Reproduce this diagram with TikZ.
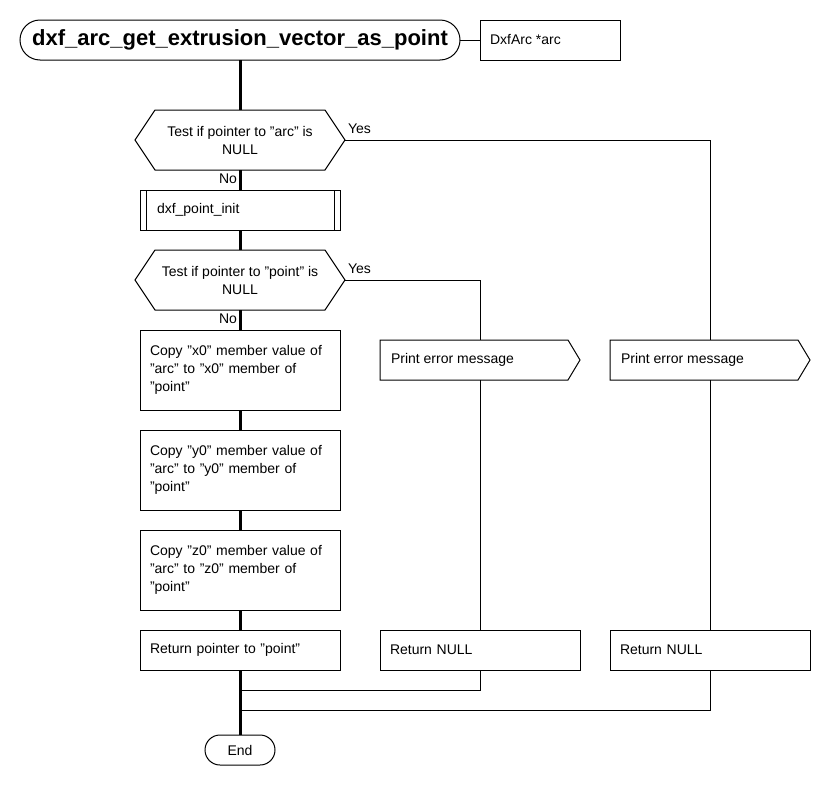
\documentclass[tikz,border=0pt]{standalone}
\usepackage{fontspec}
\setmainfont{Liberation Sans}
\begin{document}
\begin{tikzpicture}[x=1pt,y=-1pt,
  every node/.style={inner sep=0pt,outer sep=0pt,font=\fontsize{14}{18}\selectfont},
  box/.style={draw,line width=1pt,minimum width=200pt,minimum height=40pt},
  tallbox/.style={box,minimum height=80pt,text width=180pt,align=left},
  shell/.style={draw=none,minimum width=#1,minimum height=40pt},
  outline/.style={line width=1pt,line join=miter},
  term/.style={draw,line width=1pt,rounded corners=#1},
  flow/.style={line width=3pt},
  link/.style={line width=1pt},
  lbl/.style={font=\fontsize{14}{18}\selectfont}]
\useasboundingbox (0,0) rectangle (830,790);

% start terminator and parameter box
\node[term=20pt,minimum width=440pt,minimum height=40pt,font=\fontsize{22}{26}\bfseries\selectfont] (start) at (240,40) {dxf\_arc\_get\_extrusion\_vector\_as\_point};
\node[box,minimum width=140pt] (param) at (550,40) {};
\node[anchor=west] at (490,40) {DxfArc *arc};
\draw[link] (start.east) -- (param.west);

% first decision
\node[shell=210pt,minimum height=60pt,align=center] (d1) at (240,140) {Test if pointer to "arc" is\\NULL};
\draw[outline] ([xshift=20pt]d1.north west) -- ([xshift=-20pt]d1.north east) -- (d1.east)
  -- ([xshift=-20pt]d1.south east) -- ([xshift=20pt]d1.south west) -- (d1.west) -- cycle;

% predefined process
\node[box] (init) at (240,210) {};
\draw[outline] ([xshift=6pt]init.north west) -- ([xshift=6pt]init.south west);
\draw[outline] ([xshift=-6pt]init.north east) -- ([xshift=-6pt]init.south east);
\node[anchor=west] at (157,210) {dxf\_point\_init};

% second decision
\node[shell=210pt,minimum height=60pt,align=center] (d2) at (240,280) {Test if pointer to "point" is\\NULL};
\draw[outline] ([xshift=20pt]d2.north west) -- ([xshift=-20pt]d2.north east) -- (d2.east)
  -- ([xshift=-20pt]d2.south east) -- ([xshift=20pt]d2.south west) -- (d2.west) -- cycle;

% copy steps
\node[tallbox] (cx) at (240,370) {Copy "x0" member value of\\"arc" to "x0" member of\\"point"};
\node[tallbox] (cy) at (240,470) {Copy "y0" member value of\\"arc" to "y0" member of\\"point"};
\node[tallbox] (cz) at (240,570) {Copy "z0" member value of\\"arc" to "z0" member of\\"point"};
\node[box,text width=180pt,align=left] (ret) at (240,650) {Return pointer to "point"};

% error branches
\node[shell=200pt] (e1) at (480,360) {};
\draw[outline] (e1.north west) -- ([xshift=-12pt]e1.north east) -- (e1.east)
  -- ([xshift=-12pt]e1.south east) -- (e1.south west) -- cycle;
\node[anchor=west] at (391,360) {Print error message};
\node[shell=200pt] (e2) at (710,360) {};
\draw[outline] (e2.north west) -- ([xshift=-12pt]e2.north east) -- (e2.east)
  -- ([xshift=-12pt]e2.south east) -- (e2.south west) -- cycle;
\node[anchor=west] at (621,360) {Print error message};
\node[box,text width=180pt,align=left] (r1) at (480,650) {Return NULL};
\node[box,text width=180pt,align=left] (r2) at (710,650) {Return NULL};

% end terminator
\node[term=15pt,minimum width=70pt,minimum height=30pt] (stop) at (240,750) {End};

% main flow
\draw[flow] (start.south) -- (d1.north);
\draw[flow] (d1.south) -- (init.north);
\draw[flow] (init.south) -- (d2.north);
\draw[flow] (d2.south) -- (cx.north);
\draw[flow] (cx.south) -- (cy.north);
\draw[flow] (cy.south) -- (cz.north);
\draw[flow] (cz.south) -- (ret.north);
\draw[flow] (ret.south) -- (stop.north);

% branch lines
\draw[link] (d1.east) -| (e2.north);
\draw[link] (d2.east) -| (e1.north);
\draw[link] (e1.south) -- (r1.north);
\draw[link] (e2.south) -- (r2.north);
\coordinate (j1) at (240,690);
\coordinate (j2) at (240,710);
\draw[link] (r1.south) |- (j1);
\draw[link] (r2.south) |- (j2);

% branch labels
\node[lbl,anchor=west] at (348,129) {Yes};
\node[lbl,anchor=west] at (348,269) {Yes};
\node[lbl,anchor=east] at (237,179) {No};
\node[lbl,anchor=east] at (237,319) {No};
\end{tikzpicture}
\end{document}
